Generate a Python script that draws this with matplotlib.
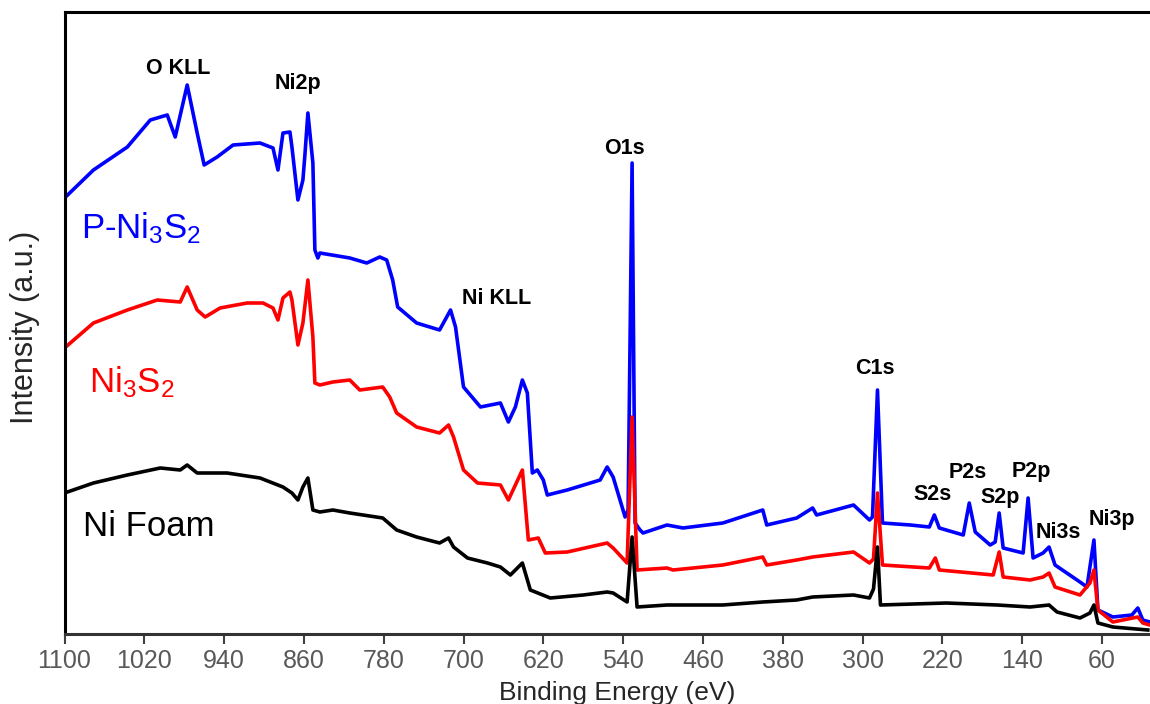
import matplotlib
matplotlib.use("Agg")
import matplotlib.pyplot as plt

# binding energy (eV) / intensity (a.u.)
blue_e = [1100, 1071, 1037, 1014, 997, 989, 977, 967, 960, 947,
          931, 904, 891, 886, 881, 874, 872, 866, 861, 859,
          856, 851, 849, 846, 844, 814, 797, 784, 777, 771,
          766, 747, 724, 713, 708, 700, 683, 663, 655, 648,
          641, 636, 631, 626, 620, 616, 596, 563, 556, 550,
          538, 535, 531, 528, 523, 520, 496, 480, 440, 400,
          396, 366, 350, 346, 309, 293, 290, 285, 280, 252,
          233, 228, 223, 199, 193, 187, 172, 167, 163, 159,
          139, 134, 129, 119, 113, 107, 82, 75, 68, 64,
          49, 30, 24, 19, 12]
blue_i = [436, 464, 487, 514, 519, 497, 549, 501, 469, 477,
          489, 491, 486, 464, 501, 502, 487, 434, 454, 479,
          521, 471, 384, 376, 381, 376, 371, 377, 374, 354,
          327, 311, 304, 324, 307, 247, 227, 231, 212, 227,
          254, 241, 161, 164, 154, 139, 144, 154, 167, 157,
          117, 124, 471, 111, 104, 101, 109, 106, 111, 124,
          109, 116, 126, 119, 129, 114, 117, 244, 111, 109,
          107, 119, 106, 99, 131, 102, 89, 92, 121, 86,
          81, 136, 76, 81, 87, 69, 52, 47, 94, 24,
          17, 19, 26, 14, 12]

red_e = [1100, 1071, 1037, 1007, 984, 977, 967, 959, 944, 917,
         901, 891, 886, 881, 874, 872, 866, 861, 856, 851,
         849, 844, 831, 814, 804, 781, 774, 767, 747, 724,
         715, 710, 700, 686, 663, 655, 641, 635, 625, 618,
         596, 556, 550, 536, 531, 526, 496, 490, 440, 400,
         396, 366, 350, 309, 293, 289, 285, 280, 233, 227,
         223, 169, 163, 159, 132, 119, 113, 107, 82, 72,
         68, 64, 49, 24, 19, 12]
red_i = [286, 311, 324, 334, 332, 347, 324, 317, 326, 331,
         331, 326, 314, 336, 342, 334, 289, 311, 354, 297,
         251, 249, 252, 254, 244, 247, 237, 221, 207, 201,
         209, 197, 164, 151, 149, 134, 164, 94, 96, 81,
         82, 91, 86, 71, 217, 64, 66, 64, 69, 77,
         69, 74, 77, 82, 71, 75, 141, 69, 66, 76,
         64, 59, 82, 57, 54, 57, 61, 47, 39, 51,
         64, 24, 12, 17, 11, 9]

black_e = [1100, 1071, 1037, 1004, 984, 977, 967, 937, 904, 881,
           872, 866, 861, 856, 851, 844, 831, 814, 781, 767,
           747, 724, 715, 710, 696, 676, 663, 653, 641, 633,
           613, 580, 556, 550, 536, 531, 526, 496, 440, 400,
           366, 350, 309, 293, 289, 285, 282, 216, 165, 132,
           113, 105, 82, 72, 68, 64, 49, 14]
black_i = [141, 151, 159, 166, 164, 169, 161, 161, 156, 147,
           141, 134, 147, 156, 124, 122, 124, 121, 116, 104,
           97, 91, 96, 87, 76, 71, 67, 59, 71, 44,
           36, 39, 42, 41, 32, 97, 27, 29, 29, 32,
           34, 37, 39, 36, 45, 87, 29, 31, 29, 27,
           29, 22, 16, 21, 29, 11, 7, 4]

peak_names = ["O KLL", "Ni2p", "O1s", "Ni KLL", "C1s", "S2s", "P2s",
              "S2p", "P2p", "Ni3s", "Ni3p"]
peak_e = [986, 866, 539, 667, 288, 230, 195, 162, 131, 104, 50]
peak_i = [566, 550, 486, 336, 266, 139, 162, 136, 162, 102, 114]

xticks = [1100, 1020, 940, 860, 780, 700, 620, 540, 460, 380, 300, 220, 140, 60]

plt.rcParams["font.family"] = ["Liberation Sans", "DejaVu Sans"]
plt.rcParams["mathtext.fontset"] = "custom"
plt.rcParams["mathtext.rm"] = "Liberation Sans"
plt.rcParams["mathtext.it"] = "Liberation Sans:italic"

fig = plt.figure(figsize=(11.5, 7.04), dpi=100)
ax = fig.add_axes([64.5 / 1150, 70 / 704, 1085.5 / 1150, 622 / 704])

ax.plot(blue_e, blue_i, color="#0000ff", lw=2.6, zorder=1)
ax.plot(red_e, red_i, color="#ff0000", lw=2.6, zorder=2)
ax.plot(black_e, black_i, color="#000000", lw=2.6, zorder=3)

ax.set_xlim(1100, 11.8)
ax.set_ylim(0, 622)

for name, e, i in zip(peak_names, peak_e, peak_i):
    ax.text(e, i, name, fontsize=15.5, fontweight="bold", ha="center", va="center")

ax.text(1083, 406, r"P-Ni$_3$S$_2$", color="#0000ff", fontsize=25, va="center")
ax.text(1075, 252, r"Ni$_3$S$_2$", color="#ff0000", fontsize=25, va="center")
ax.text(1081, 107, "Ni Foam", color="#000000", fontsize=25, va="center")

ax.set_xticks(xticks)
ax.set_yticks([])
ax.tick_params(axis="x", direction="out", length=7, width=1.5, color="#404040",
               labelcolor="#595959", labelsize=18, pad=4)

ax.spines["right"].set_visible(False)
for s in ["left", "top", "bottom"]:
    ax.spines[s].set_linewidth(2.2)
ax.spines["bottom"].set_color("#333333")

fig.text(25 / 1150, 1 - 327 / 704, "Intensity (a.u.)", rotation=90, fontsize=22,
         color="#262626", ha="center", va="center")
fig.text(617 / 1150, 1 - 693 / 704, "Binding Energy (eV)", fontsize=19,
         color="#262626", ha="center", va="center")

fig.savefig("out.png", dpi=100)
